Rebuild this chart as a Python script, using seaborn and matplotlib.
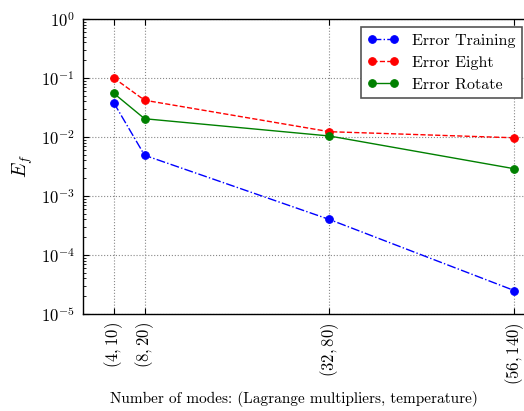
import matplotlib
matplotlib.use("Agg")
import matplotlib.pyplot as plt
import seaborn as sns
import numpy as np

# Modes: (Lagrange multipliers, temperature)
n_lagrange = [4, 8, 32, 56]
n_temperature = [10, 20, 80, 140]
tick_labels = [f"$({a}, {b})$" for a, b in zip(n_lagrange, n_temperature)]

err_training = [0.038, 0.0049, 0.0004, 2.5e-5]
err_eight = [0.1, 0.042, 0.0123, 0.0097]
err_rotate = [0.055, 0.0204, 0.0104, 0.0029]

plt.rcParams.update({
    "font.family": "serif",
    "font.serif": ["cmr10"],
    "mathtext.fontset": "cm",
    "axes.formatter.use_mathtext": True,
    "font.size": 12,
    "xtick.direction": "in",
    "ytick.direction": "in",
    "xtick.top": True,
    "ytick.right": True,
    "xtick.major.size": 4,
    "ytick.major.size": 4,
    "ytick.minor.size": 2,
    "xtick.major.pad": 6,
    "ytick.major.pad": 6,
    "axes.linewidth": 1.0,
})

fig = plt.figure(figsize=(5.24, 4.11), dpi=100)
ax = fig.add_axes([83 / 524, 1 - 314 / 411, (529.6 - 83) / 524, (314 - 19) / 411])

series = [
    (err_training, "Error Training", "b", "-."),
    (err_eight, "Error Eight", "r", "--"),
    (err_rotate, "Error Rotate", "g", "-"),
]
for vals, label, color, ls in series:
    sns.lineplot(x=n_lagrange, y=vals, ax=ax, color=color, linestyle=ls,
                 marker="o", markersize=5.5, markeredgecolor=color,
                 linewidth=1.0, label=label)

ax.set_yscale("log")
ax.set_ylim(1e-5, 1e0)
ax.set_xlim(0, 58)
ax.set_xticks(n_lagrange)
ax.set_xticklabels(tick_labels, rotation=90)
ax.grid(True, which="major", linestyle=":", color="#888888", linewidth=0.8)
ax.set_axisbelow(True)
ax.set_ylabel("$E_f$", fontsize=14)
ax.set_xlabel("Number of modes: (Lagrange multipliers, temperature)", fontsize=11)
ax.xaxis.set_label_coords((294 - 83) / (529.6 - 83), -(391 - 314) / (314 - 19))

leg = ax.legend(loc="upper right", numpoints=2, fancybox=False, fontsize=11.5,
                handlelength=2.0, borderaxespad=0.5, framealpha=1.0)
leg.get_frame().set_edgecolor("#555555")
leg.get_frame().set_linewidth(1.2)

fig.savefig("out.png", dpi=100, facecolor="white")
